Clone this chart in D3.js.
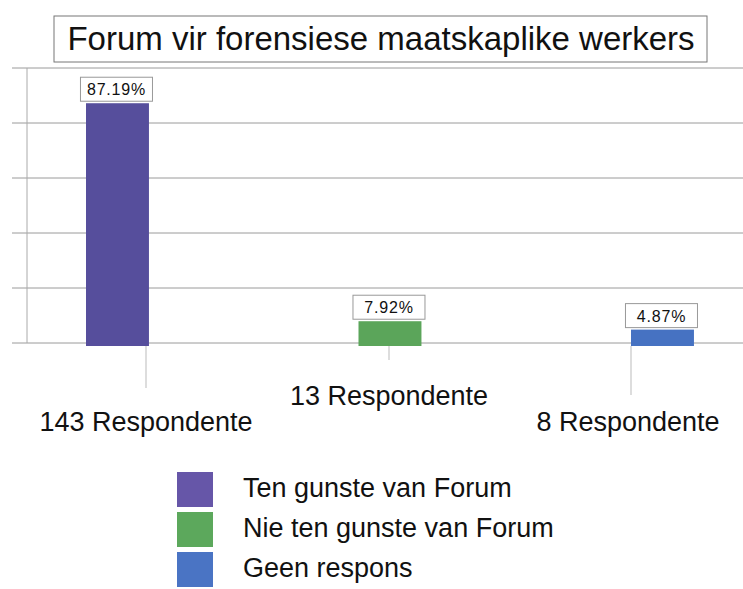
<!DOCTYPE html>
<html>
<head>
<meta charset="utf-8">
<script src="https://cdn.jsdelivr.net/npm/d3@7"></script>
<style>
  body { margin: 0; background: #fff; }
  text { font-family: "Liberation Sans", Arial, sans-serif; fill: #111; }
</style>
</head>
<body>
<svg id="chart" width="743" height="589"></svg>
<script>
// chart data
let categories = ['Ten gunste van Forum', 'Nie ten gunste van Forum', 'Geen respons'];
let percents = [87.19, 7.92, 4.87];
let respondents = ['143 Respondente', '13 Respondente', '8 Respondente'];
let yTicks = [0, 20, 40, 60, 80, 100];
let colors = ['#564e9c', '#5ba55a', '#4672c2'];
let legendColors = ['#6656a8', '#5ca85c', '#4a74c4'];

let svg = d3.select('svg#chart');

let plotTop = 68, baseline = 343;
let left = 27, right = 743;

// title box
svg.append('rect')
  .attr('x', 54).attr('y', 16).attr('width', 653).attr('height', 46)
  .attr('fill', '#fff').attr('stroke', '#777').attr('stroke-width', 1);
svg.append('text')
  .attr('x', 381).attr('y', 50)
  .attr('text-anchor', 'middle')
  .style('font-size', '33px')
  .text('Forum vir forensiese maatskaplike werkers');

// scales
let xScale = d3.scaleBand()
  .domain(categories)
  .range([4.25, 775.7])
  .paddingInner(0.769)
  .paddingOuter(0.3);

let yScale = d3.scaleLinear()
  .domain([0, 100])
  .range([baseline, plotTop]);

// gridlines
svg.append('g')
  .selectAll('line')
  .data(yTicks)
  .enter().append('line')
  .attr('x1', 12).attr('x2', right)
  .attr('y1', d => yScale(d)).attr('y2', d => yScale(d))
  .attr('stroke', '#9a9a9a').attr('stroke-width', 1);

// left axis
svg.append('line')
  .attr('x1', left).attr('x2', left)
  .attr('y1', plotTop).attr('y2', baseline)
  .attr('stroke', '#aaa');

// bars
svg.append('g')
  .selectAll('rect')
  .data(categories)
  .enter().append('rect')
  .attr('x', d => xScale(d))
  .attr('width', xScale.bandwidth())
  .attr('y', (d, i) => yScale(percents[i]))
  .attr('height', (d, i) => baseline + 3 - yScale(percents[i]))
  .attr('fill', (d, i) => colors[i]);

// value labels
let lab = svg.append('g')
  .selectAll('g')
  .data(categories)
  .enter().append('g')
  .attr('transform', (d, i) => `translate(${xScale(d) + xScale.bandwidth() / 2 - 1}, ${yScale(percents[i]) - 14})`);
lab.append('rect')
  .attr('x', -36).attr('y', -12).attr('width', 72).attr('height', 24)
  .attr('fill', '#fff').attr('stroke', '#999');
lab.append('text')
  .attr('text-anchor', 'middle')
  .attr('y', 6)
  .style('font-size', '16px')
  .style('letter-spacing', '0.8px')
  .text((d, i) => percents[i].toFixed(2) + '%');

// category labels with leader lines (staggered)
let labelX = [146, 389, 628];
let labelY = [431, 405, 431];
let leaderX = [146, 389, 631];
let leaderEnd = [388, 360, 395];
svg.append('g')
  .selectAll('line')
  .data(categories)
  .enter().append('line')
  .attr('x1', (d, i) => leaderX[i]).attr('x2', (d, i) => leaderX[i])
  .attr('y1', baseline + 3).attr('y2', (d, i) => leaderEnd[i])
  .attr('stroke', '#bbb');
svg.append('g')
  .selectAll('text')
  .data(respondents)
  .enter().append('text')
  .attr('x', (d, i) => labelX[i])
  .attr('y', (d, i) => labelY[i])
  .attr('text-anchor', 'middle')
  .style('font-size', '27px')
  .text(d => d);

// legend
let leg = svg.append('g')
  .selectAll('g')
  .data(categories)
  .enter().append('g')
  .attr('transform', (d, i) => `translate(177, ${472 + i * 40})`);
leg.append('rect')
  .attr('width', 36).attr('height', 35)
  .attr('fill', (d, i) => legendColors[i]);
leg.append('text')
  .attr('x', 66).attr('y', 25)
  .style('font-size', '27px')
  .text(d => d);
</script>
</body>
</html>
